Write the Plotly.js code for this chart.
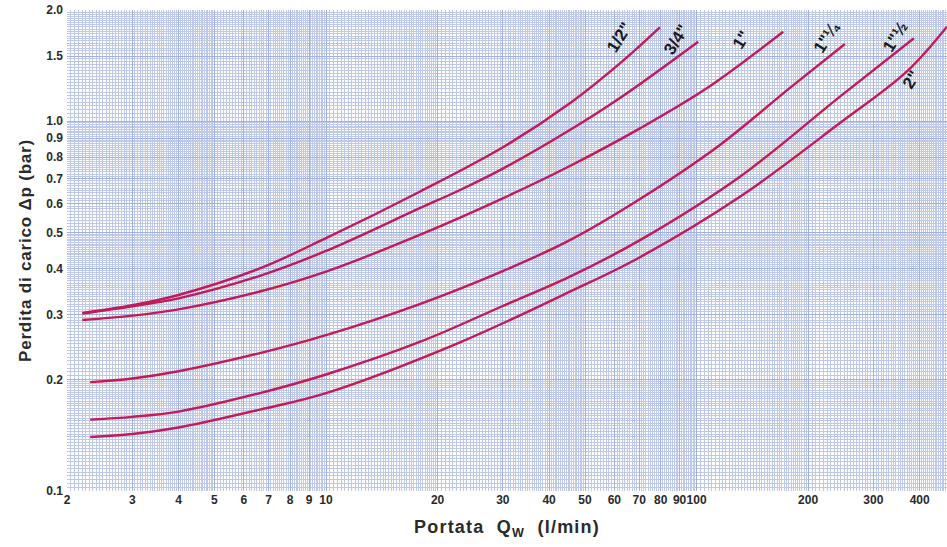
<!DOCTYPE html>
<html>
<head>
<meta charset="utf-8">
<script src="https://cdn.plot.ly/plotly-3.0.1.min.js"></script>
<style>
html,body{margin:0;padding:0;background:#fff;}
#chart{width:947px;height:547px;}
#chart .xtitle{letter-spacing:1.2px;}
#chart .ytitle{letter-spacing:0.8px;}
</style>
</head>
<body>
<div id="chart"></div>
<script>
// ---- data ----
const seriesNames = ['1/2"', '3/4"', '1"', '1"¼', '1"½', '2"'];

const x_half = [2.2, 3.0, 4.0, 6.63, 10, 17.9, 30.1, 45.5, 62.1, 79.6];
const y_half = [0.303, 0.318, 0.339, 0.400, 0.483, 0.645, 0.852, 1.119, 1.435, 1.796];

const x_3q = [2.2, 3.0, 4.0, 6.63, 10, 17.9, 23.0, 30.1, 45.5, 62.1, 101];
const y_3q = [0.302, 0.316, 0.332, 0.382, 0.446, 0.582, 0.652, 0.746, 0.947, 1.156, 1.642];

const x_1 = [2.2, 3.0, 4.0, 6.63, 10, 17.9, 30.1, 45.5, 70.35, 106.5, 171.3];
const y_1 = [0.290, 0.298, 0.310, 0.3464, 0.392, 0.493, 0.620, 0.757, 0.957, 1.228, 1.747];

const x_1q = [2.31, 3.0, 4.0, 6.63, 10, 17.9, 30.1, 45.5, 70.35, 115.6, 178.6, 251.3];
const y_1q = [0.197, 0.2015, 0.2108, 0.236, 0.264, 0.3204, 0.394, 0.477, 0.6163, 0.863, 1.231, 1.618];

const x_1h = [2.31, 3.0, 4.0, 6.63, 10, 17.9, 30.1, 45.5, 70.35, 130.9, 243.7, 385.9];
const y_1h = [0.156, 0.1587, 0.164, 0.184, 0.2066, 0.253, 0.317, 0.380, 0.477, 0.708, 1.166, 1.677];

const x_2 = [2.31, 3.0, 4.0, 6.63, 10, 23.0, 45.5, 70.35, 130.9, 243.7, 368.8, 473.8];
const y_2 = [0.140, 0.1426, 0.1485, 0.166, 0.184, 0.2525, 0.346, 0.429, 0.625, 0.989, 1.362, 1.803];

const xTickVals = [2,3,4,5,6,7,8,9,10,20,30,40,50,60,70,80,90,100,200,300,400];
const xTickText = ['2','3','4','5','6','7','8','9','10','20','30','40','50','60','70','80','90','100','200','300','400'];
const yTickVals = [0.1,0.2,0.3,0.4,0.5,0.6,0.7,0.8,0.9,1.0,1.5,2.0];
const yTickText = ['0.1','0.2','0.3','0.4','0.5','0.6','0.7','0.8','0.9','1.0','1.5','2.0'];

// ---- graph-paper grid values (styling only) ----
function paperGrid(lo, hi) {
  const vals = [];
  const steps = [[1, 2, 0.025], [2, 5, 0.05], [5, 10, 0.1]];
  [0.1, 1, 10, 100].forEach(d => {
    steps.forEach(([a, b, s]) => {
      const n = Math.round((b - a) / s);
      for (let i = 0; i < n; i++) {
        const v = +((a + i * s) * d).toFixed(6);
        if (v >= lo && v <= hi) vals.push(v);
      }
    });
  });
  return vals;
}
const xMinor = paperGrid(2, 480);
const yMinor = paperGrid(0.1, 2.0);

const curveColor = '#c41a57';
const xs = [x_half, x_3q, x_1, x_1q, x_1h, x_2];
const ys = [y_half, y_3q, y_1, y_1q, y_1h, y_2];
const traces = xs.map((x, i) => ({
  type: 'scatter', mode: 'lines', name: seriesNames[i],
  x: x, y: ys[i],
  line: {color: curveColor, width: 2.4, shape: 'spline', smoothing: 1.0},
  hoverinfo: 'x+y+name'
}));

const FAM = 'Liberation Sans, Arial, sans-serif';
const tickFont = {family: FAM, size: 12, color: '#2a2a2a', weight: 'bold'};
const labelFont = {family: FAM, size: 17, color: '#1a1a1a', weight: 'bold'};

const labelPos = [
  [0.628, 0.942], [0.693, 0.938], [0.767, 0.938], [0.864, 0.944], [0.942, 0.944], [0.960, 0.8545]
];
const annotations = seriesNames.map((t, i) => ({
  text: t, xref: 'paper', yref: 'paper', x: labelPos[i][0], y: labelPos[i][1],
  xanchor: 'center', yanchor: 'middle',
  showarrow: false, textangle: -58, font: labelFont
}));

const layout = {
  width: 947, height: 547,
  margin: {l: 67, r: 0, t: 10, b: 56, pad: 0},
  paper_bgcolor: '#ffffff', plot_bgcolor: '#ffffff',
  showlegend: false,
  xaxis: {
    type: 'log', range: [Math.log10(2), Math.log10(474)],
    tickmode: 'array', tickvals: xTickVals, ticktext: xTickText, tickangle: 0,
    tickfont: tickFont, ticks: '', showline: false, zeroline: false,
    showgrid: true, gridcolor: 'rgb(160,176,224)', gridwidth: 1,
    minor: {tickmode: 'array', tickvals: xMinor, showgrid: true, gridcolor: 'rgb(190,201,234)', gridwidth: 1, ticks: ''},
    title: {text: 'Portata  Q<sub>W</sub>  (l/min)', font: {family: FAM, size: 18, color: '#2a2a2a', weight: 'bold'}, standoff: 14}
  },
  yaxis: {
    type: 'log', range: [-1, Math.log10(2)],
    tickmode: 'array', tickvals: yTickVals, ticktext: yTickText,
    tickfont: tickFont, ticks: '', showline: false, zeroline: false, ticklabelstandoff: 3,
    showgrid: true, gridcolor: 'rgb(160,176,224)', gridwidth: 1,
    minor: {tickmode: 'array', tickvals: yMinor, showgrid: true, gridcolor: 'rgb(190,201,234)', gridwidth: 1, ticks: ''},
    title: {text: 'Perdita di carico \u0394p (bar)', font: {family: FAM, size: 17, color: '#2a2a2a', weight: 'bold'}, standoff: 10}
  },
  annotations: annotations
};

Plotly.newPlot('chart', traces, layout, {displayModeBar: false, staticPlot: true});
</script>
</body>
</html>
